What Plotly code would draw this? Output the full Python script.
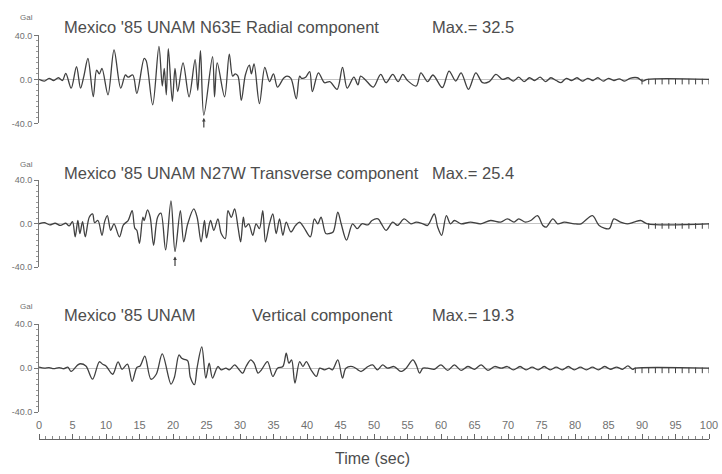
import plotly.graph_objects as go

# ---------------- data ----------------
rad_t = [0, 0.8, 1.5, 2.2, 2.9, 3.5, 4.0, 4.8, 5.6, 6.2, 6.7, 7.3, 8.1, 8.6, 9.0, 9.4, 10.3, 11.2, 12.2, 12.9,
         13.3, 14.0, 14.6, 15.7, 16.0, 16.97, 17.9, 18.4, 18.7, 19.0, 19.3, 19.9, 20.3, 20.7, 21.5, 22.4, 23.3,
         23.7, 24.1, 24.6, 25.9, 26.2, 26.6, 27.7, 28.4, 28.9, 29.3, 29.7, 30.2, 30.8, 31.4, 31.7, 32.1, 32.9,
         33.7, 34.4, 35.0, 35.6, 36.5, 37.0, 37.6, 38.4, 38.9, 39.2, 39.8, 40.4, 40.8, 41.7, 42.6, 43.4, 44.5,
         45.3, 46.0, 47.0, 47.6, 48.0, 48.8, 49.9, 51.0, 51.8, 52.8, 53.6, 54.3, 55.0, 56.3, 57.0, 58.0, 58.8,
         60.2, 61.2, 62.2, 63.0, 64.1, 65.2, 66.2, 67.2, 68.2, 69.2, 70.0, 70.8, 71.6, 72.4, 73.2, 74.0, 74.8,
         75.6, 76.4, 77.2, 77.9, 78.7, 79.5, 80.3, 81.1, 81.9, 82.7, 83.4, 84.2, 85.0, 85.8, 86.6, 87.4, 88.2,
         89.3, 90.1, 90.8, 100]
rad_v = [0, -1.5, 1, -1, 1.5, -1, 5.5, -8, 11.5, -8, 3, 19, -15.7, 8.5, 5, 10, -14, 26.7, -8, 4,
         2, 4, -12.7, 19, 17, -23, 30, -6, 10, -14, 28, -20, 10, -11, 15, -15.8, 18,
         -10, 26, -32.5, 20.6, -15.8, 15, -15.8, 23, 3, 5, 3, -19, 4, 13, 5, 14, -22,
         11, -2, 5, -7, 1, 3, 1, -17.6, 3, 1, 2, 7, -11, 6, -3, -2, -9,
         11, -8, 2, -5, 3, -1, -7, 4.5, -3, 4.5, -2, 4.5, -1, -6, 6, -2, 4,
         -7.5, 7.5, -1.5, 6, -9, 6, -3, -2, 4.5, 0, 1.5, -1.5, 2, -2, 1.5, -1, 2,
         -2, 1.5, -1, -3, 1, -1, 1.5, -1.5, 1, -1, 1.5, -1.5, 1, -1, 0.5, -1.5, 1,
         1.5, -1.5, 0, 0]

tra_t = [0, 0.8, 1.6, 2.4, 3.2, 4.0, 4.5, 5.0, 5.4, 5.8, 6.1, 6.5, 6.9, 7.5, 8.0, 8.3, 8.8, 9.4, 9.8, 10.2,
         10.7, 11.2, 12.0, 12.6, 13.3, 13.9, 14.3, 14.6, 15.0, 15.5, 15.7, 16.2, 16.6, 17.1, 17.7, 18.2, 18.9,
         19.7, 20.3, 21.1, 21.6, 22.2, 23.1, 23.6, 24.2, 24.7, 25.0, 25.6, 26.1, 26.7, 27.2, 27.8, 28.2, 28.7,
         29.2, 29.7, 30.1, 30.5, 30.8, 31.3, 31.9, 32.4, 32.9, 33.4, 33.8, 34.4, 34.9, 35.4, 35.9, 36.4, 36.9,
         37.6, 38.3, 38.9, 39.5, 40.5, 41.1, 41.6, 42.1, 42.8, 43.3, 43.9, 44.6, 45.1, 45.9, 46.8, 47.5, 48.2,
         49.1, 49.7, 50.6, 51.1, 51.8, 52.8, 53.5, 54.5, 55.5, 56.3, 57.3, 58.0, 59.0, 59.5, 60.1, 60.8, 61.4,
         62.0, 63.0, 64.4, 65.9, 67.4, 68.9, 69.9, 70.9, 71.6, 72.6, 73.4, 74.4, 75.2, 75.7, 76.7, 77.4, 78.4,
         79.9, 80.9, 82.6, 83.6, 85.1, 85.8, 86.8, 87.8, 88.8, 89.8, 90.8, 100]
tra_v = [0, 1, -1, 0.5, -1.5, 0.5, -2, 2, -12, 3, -9, 2, -12, 6, 9, 1, 3, -10.6, 2, 7.5,
         -6, 0, -12, -1, 3, 12, -4, -6, -18, 6, 3, 12.7, 6, -19.7, 6, 9.7, -24,
         21, -25.4, 12, -16.7, 0, 13.6, 6, -16.7, 3, -13, 3, -6, 4.5, -9, -13.6, 12, 6,
         13.6, -3, -16.7, 6, -3, 0, -10.6, 0, -4.5, 12, -16.7, 0, 9, -9, 4.5, -10.6, 1.5,
         -7.5, -1.5, 1.5, -3, -12, 4.5, 0, 6, -9, -9, -7.5, 10.6, 0, -15, 0, -4.5, 0,
         -1, 3, 4.5, 0, -6, 1.5, -1.5, 4.5, 0, 1.5, 0, -1.5, 9, -3, -10.6, 7.5, 0,
         3, 0, 1.5, 0, 3, 1.5, 4.5, 1.5, 4.5, 1.5, 3, 7.5, -1.5, -3, 4.5, 0, 1.5,
         0, 0, 7.5, -1.5, -4.5, 4.5, 1.5, 0, 1.5, 3, 0, 0]

ver_t = [0, 0.8, 1.5, 2.2, 3.0, 3.7, 4.3, 4.8, 5.8, 6.2, 7.0, 8.0, 9.0, 9.5, 10.0, 11.0, 11.8, 12.4, 13.2,
         13.9, 14.6, 15.1, 15.8, 16.7, 17.5, 18.4, 19.7, 20.2, 20.9, 21.3, 21.7, 22.2, 22.6, 23.2, 23.6, 24.3,
         24.9, 25.4, 25.9, 26.7, 27.2, 27.9, 28.4, 29.2, 29.7, 30.4, 30.9, 31.6, 32.1, 32.7, 33.2, 34.1, 34.9,
         35.6, 36.4, 36.9, 37.3, 37.7, 38.2, 38.9, 39.4, 39.9, 40.6, 41.4, 41.9, 42.6, 43.3, 43.8, 44.6, 45.3,
         45.8, 46.8, 47.6, 48.1, 49.1, 49.8, 50.5, 51.3, 52.0, 53.0, 54.0, 54.8, 55.8, 56.3, 56.8, 57.3, 58.0,
         59.0, 60.0, 61.0, 62.0, 63.0, 64.0, 65.0, 66.0, 67.0, 68.0, 69.0, 69.9, 70.8, 71.8, 72.7, 73.6, 74.5,
         75.4, 76.3, 77.2, 78.1, 79.0, 79.9, 80.8, 81.7, 82.6, 83.5, 84.4, 85.3, 86.2, 87.1, 87.9, 88.6, 89.0,
         100]
ver_v = [1, 0, 0.5, -0.5, 0.5, -0.5, 1, -3, 3, 4, 2, -10, 5.8, 3.6, 2, -5.5, 5.8, -1, 3.6,
         -12, 0.6, 2, 11, -10, -5.5, 13, -14.5, -8.5, 12, 9, 8, 6.7, -8.5, -15, 0.6, 19.3,
         -9, 4.5, -9, 1.5, -1.5, 0, -1.5, 3, 0, -4.5, 1.5, 7.5, 4.5, -4.5, -1.5, 6, -7.5,
         0, 1.5, 13.6, 4.5, 7.5, -13.6, 6, 1.5, 6, -1.5, -7.5, 0, -1.5, 0, -1.5, 7.5, -9,
         0, 1.5, -1.5, -3, 1.5, 3, -1.5, 3, 0, 1.5, -3, 0, 7.5, 3, -4.5, 0, 0,
         -1, 3, -2, 3, -2, 1.5, -1, 3, -2, 1.5, 0, 1.5, -1.5, 1.5, -1.5, 1, -1.5,
         1.5, -1.5, 1, -1.5, 1.5, -1.5, 1, -1.5, 1, -1.5, 1.5, -1, 1, -1, 2, -1, 0,
         0]

rad_marks = [90, 91, 92, 93, 94, 95, 96, 97, 98, 99, 100]
tra_marks = [91, 92, 93, 94, 95, 96, 97, 98, 99, 100]
ver_marks = [89, 90, 91, 92, 93, 94, 95, 96, 97, 98, 99, 100]

titles_left = ["Mexico '85 UNAM N63E Radial component",
               "Mexico '85 UNAM N27W Transverse component",
               "Mexico '85 UNAM"]
titles_max = ["Max.= 32.5", "Max.= 25.4", "Max.= 19.3"]
extra_title = "Vertical component"
time_ticks = [0, 5, 10, 15, 20, 25, 30, 35, 40, 45, 50, 55, 60, 65, 70, 75, 80, 85, 90, 95, 100]
gal_ticks = [-40, 0, 40]
gal_labels = ["-40.0", "0.0", "40.0"]
max_times = [24.6, 20.3]

# ---------------- layout helpers ----------------
W, H = 722, 474
L, R = 39, 13
PW = W - L - R


def fx(px):
    return (px - L) / PW


def fy(py):
    return 1 - py / H


INK = "#404040"
TXT = "#4d4d4d"
FONT = "Liberation Sans, Arial, sans-serif"

panels = [(31, 121), (179, 268), (326, 416)]
series = [(rad_t, rad_v, rad_marks), (tra_t, tra_v, tra_marks), (ver_t, ver_v, ver_marks)]

fig = go.Figure()
for i, (t, v, marks) in enumerate(series):
    sfx = "" if i == 0 else str(i + 1)
    fig.add_trace(go.Scatter(x=t, y=v, mode="lines", xaxis="x" + sfx, yaxis="y" + sfx,
                             line=dict(color=INK, width=1.3, shape="spline", smoothing=0.9),
                             hoverinfo="skip", showlegend=False))
    fig.add_trace(go.Scatter(x=marks, y=[-2] * len(marks), mode="markers", xaxis="x" + sfx, yaxis="y" + sfx,
                             marker=dict(symbol="line-ns", size=4, line=dict(width=1, color=INK)),
                             hoverinfo="skip", showlegend=False))
# invisible trace so the time axis subplot is drawn
fig.add_trace(go.Scatter(x=[0], y=[0], mode="markers", xaxis="x4", yaxis="y4",
                         marker=dict(opacity=0), hoverinfo="skip", showlegend=False))

layout = dict(
    width=W, height=H, margin=dict(l=L, r=R, t=0, b=0),
    paper_bgcolor="white", plot_bgcolor="white",
    font=dict(family=FONT, color=TXT),
    showlegend=False,
)
for i, (top, bot) in enumerate(panels):
    sfx = "" if i == 0 else str(i + 1)
    layout["xaxis" + sfx] = dict(domain=[0, 1], range=[0, 100], anchor="y" + sfx, visible=False)
    layout["yaxis" + sfx] = dict(domain=[fy(bot), fy(top)], range=[-40, 40], anchor="x" + sfx,
                                 showline=True, linecolor="#777", linewidth=1, showgrid=False,
                                 zeroline=True, zerolinecolor="#c4c4c4", zerolinewidth=1,
                                 tickvals=gal_ticks, ticktext=gal_labels, ticks="outside", ticklen=4,
                                 tickcolor="#777", tickfont=dict(size=9, color="#707070"),
                                 minor=dict(dtick=5, ticks="outside", ticklen=2, tickcolor="#999"))
# time axis
layout["yaxis4"] = dict(domain=[0.03, fy(444)], anchor="x4", visible=False, range=[0, 1])
layout["xaxis4"] = dict(domain=[0, 1], range=[0, 100], anchor="y4", side="top",
                        showline=True, linecolor="#666", linewidth=1, showgrid=False, zeroline=False,
                        tickvals=time_ticks, ticks="outside", ticklen=5, tickcolor="#666",
                        tickfont=dict(size=11, color="#707070"),
                        minor=dict(dtick=1, ticks="outside", ticklen=3, tickcolor="#888"))
fig.update_layout(**layout)

title_y = [22, 172, 317]
gal_y = [13, 163, 308]
anns = []
for i in range(3):
    anns.append(dict(x=fx(62), y=fy(title_y[i]), xref="paper", yref="paper", text=titles_left[i],
                     showarrow=False, xanchor="left", yanchor="middle", font=dict(size=16.5, color=TXT)))
    anns.append(dict(x=fx(430), y=fy(title_y[i]), xref="paper", yref="paper", text=titles_max[i],
                     showarrow=False, xanchor="left", yanchor="middle", font=dict(size=16.5, color=TXT)))
    anns.append(dict(x=fx(26), y=fy(gal_y[i]), xref="paper", yref="paper", text="Gal",
                     showarrow=False, xanchor="center", yanchor="middle", font=dict(size=8, color="#707070")))
anns.append(dict(x=fx(250), y=fy(title_y[2]), xref="paper", yref="paper", text=extra_title,
                 showarrow=False, xanchor="left", yanchor="middle", font=dict(size=16.5, color=TXT)))
anns.append(dict(x=fx(372), y=fy(463), xref="paper", yref="paper", text="Time (sec)",
                 showarrow=False, xanchor="center", yanchor="middle", font=dict(size=16, color=TXT)))
# small arrows marking the maximum
anns.append(dict(x=max_times[0], y=-35, xref="x", yref="y", text="", showarrow=True,
                 ax=0, ay=11, arrowhead=2, arrowsize=0.6, arrowwidth=1.2, arrowcolor=INK))
anns.append(dict(x=max_times[1], y=-30, xref="x2", yref="y2", text="", showarrow=True,
                 ax=0, ay=11, arrowhead=2, arrowsize=0.6, arrowwidth=1.2, arrowcolor=INK))
fig.update_layout(annotations=anns)

fig.write_html("out.html")
